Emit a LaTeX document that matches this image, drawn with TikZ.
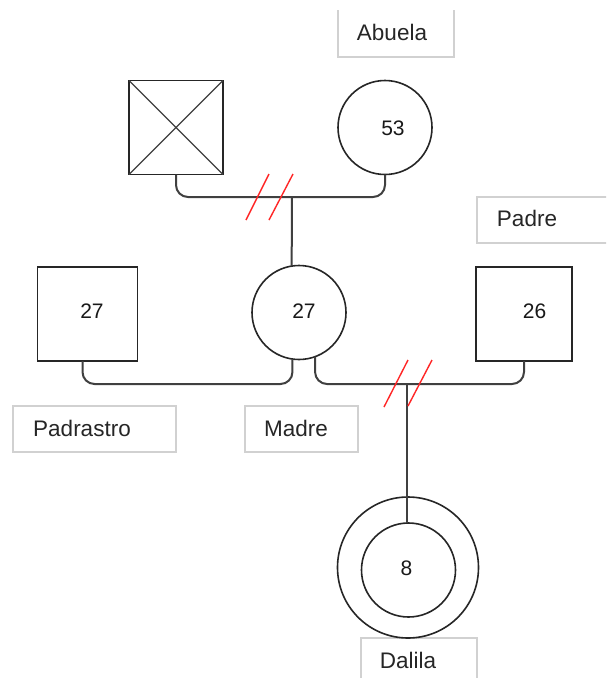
\documentclass[tikz,border=0pt]{standalone}
\usepackage{fontspec}
\setmainfont{Liberation Sans}
\begin{document}
\begin{tikzpicture}[x=1pt,y=-1pt,
  shapebox/.style={draw=black!85,line width=1.6pt,minimum size=94pt,inner sep=0pt,outer sep=0pt},
  person/.style={shapebox,circle},
  conn/.style={draw=black!75,line width=2pt,rounded corners=12pt},
  slash/.style={draw=red!85,line width=1.4pt},
  lab/.style={font=\fontsize{22.5}{26}\selectfont,text=black!85,inner sep=0pt},
  num/.style={font=\fontsize{21}{25}\selectfont,text=black!90,inner sep=0pt},
  frame/.style={draw=black!18,line width=1.1pt}]
\clip (0,0) rectangle (606,678);
\fill[white] (0,0) rectangle (606,678);
% label frames
\draw[frame] (338,10) -- (338,57) -- (454,57) -- (454,10);
\draw[frame] (612,197) -- (477,197) -- (477,243) -- (612,243);
\draw[frame] (13,406) rectangle (176,452);
\draw[frame] (245,406) rectangle (358,452);
\draw[frame] (361,690) -- (361,638) -- (477,638) -- (477,690);
% labels
\node[lab] (labAbuela) at (392,32) {Abuela};
\node[lab] (labPadre) at (527,218) {Padre};
\node[lab] (labPadrastro) at (82,428) {Padrastro};
\node[lab] (labMadre) at (296,428) {Madre};
\node[lab] (labDalila) at (408,660) {Dalila};
% persons
\node[shapebox,minimum size=94pt] (gf) at (176,127.5) {};
\draw[black!75,line width=1.2pt] (gf.north west) -- (gf.south east) (gf.north east) -- (gf.south west);
\node[person] (gm) at (385,127.5) {};
\node[shapebox,minimum size=100pt,minimum height=94pt] (pd) at (87.5,314) {};
\node[person] (madre) at (299,312.5) {};
\node[shapebox,minimum width=96pt,minimum height=94pt] (pa) at (524,314) {};
\node[person,minimum size=141pt] (dalo) at (408,567.5) {};
\node[person] (dali) at (408.5,570) {};
% numbers
\node[num] (n53) at (393,128) {53};
\node[num] (n27a) at (92,311) {27};
\node[num] (n27b) at (304,311) {27};
\node[num] (n26) at (534.5,311) {26};
\node[num] (n8) at (406.5,568) {8};
% connectors
\coordinate (m1) at (292,197);
\coordinate (m2) at (407,384);
\draw[conn] (gf.south) |- (gm.south |- m1) -- (gm.south);
\draw[conn,rounded corners=0pt] (m1) -- (madre.99);
\draw[conn] ([xshift=-5pt]pd.south) |- (madre.262 |- m2) -- (madre.262);
\draw[conn] (madre.290) |- (pa.south |- m2) -- (pa.south);
\draw[conn,rounded corners=0pt] (m2) -- (dali.north -| m2);
% divorce slashes
\draw[slash] (246,220) -- (269,174);
\draw[slash] (269,220) -- (293,174);
\draw[slash] (384,407) -- (408,360);
\draw[slash] (408,406) -- (432,360);
\end{tikzpicture}
\end{document}
